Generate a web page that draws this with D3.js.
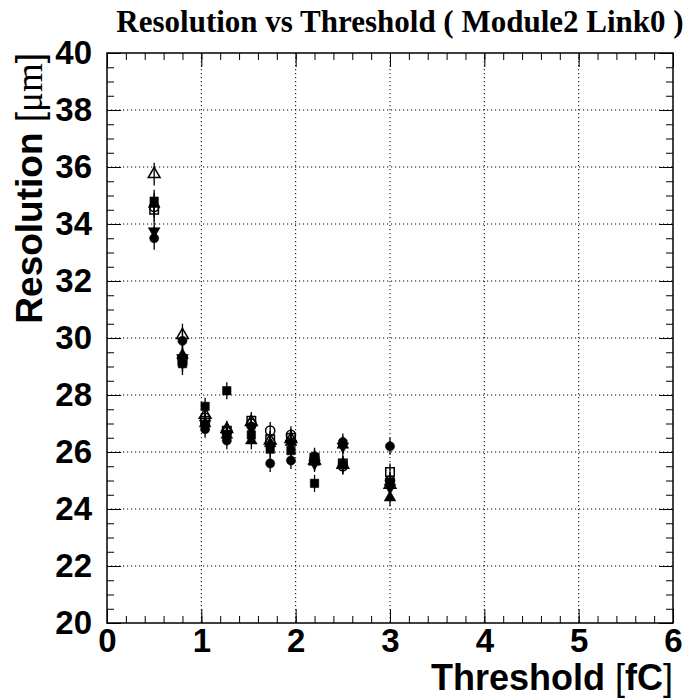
<!DOCTYPE html>
<html>
<head>
<meta charset="utf-8">
<script src="https://cdn.jsdelivr.net/npm/d3@7"></script>
<style>
  body { margin: 0; background: #fff; }
  svg { display: block; }
  .tick text { font-family: "Liberation Sans", Arial, sans-serif; font-weight: bold; font-size: 33px; fill: #000; }
  .domain { stroke: #000; stroke-width: 1.5; }
  .tick line { stroke: #000; stroke-width: 1; }
  .grid line { stroke: #000; stroke-width: 1; stroke-dasharray: 1.2 2.8; }
</style>
</head>
<body>
<svg id="chart"></svg>
<script>
// thresholds in fC
let thresholds = [0.5, 0.8, 1.04, 1.27, 1.53, 1.73, 1.95, 2.2, 2.5, 3.0];
// resolution in um, one list per marker style
let filledCircle  = [33.5, 29.9, 26.8, 26.4, 26.9, 25.6, 25.7, 25.85, 26.35, 26.2];
let filledSquare  = [34.8, 29.1, 27.6, 28.15, 26.6, 26.1, 26.05, 24.9, 25.55, 24.95];
let filledTriUp   = [34.7, 29.4, 27.0, 26.6, 26.4, 26.3, 26.35, 25.65, 26.25, 24.4];
let filledTriDown = [33.75, 29.3, 27.0, 26.65, 26.85, 26.2, 26.3, 25.6, 26.2, 24.75];
let openCircle    = [34.6, 29.3, 27.2, 26.7, 27.0, 26.75, 26.6, 25.75, 25.5, 25.0];
let openSquare    = [34.5, 29.2, 27.1, 26.75, 27.1, 26.45, 26.5, 25.8, 25.6, 25.3];
let openTriUp     = [35.75, 30.1, 27.3, 26.8, 27.05, 26.4, 26.45, 25.7, 25.55, 24.85];
let errors        = [0.4, 0.4, 0.3, 0.3, 0.3, 0.3, 0.3, 0.3, 0.3, 0.3];
let xTicks = [0, 1, 2, 3, 4, 5, 6];
let yTicks = [20, 22, 24, 26, 28, 30, 32, 34, 36, 38, 40];

let series = [
    {vals: filledCircle,  shape: d3.symbolCircle,   open: false, rot: 0},
    {vals: filledSquare,  shape: d3.symbolSquare,   open: false, rot: 0},
    {vals: filledTriUp,   shape: d3.symbolTriangle, open: false, rot: 0},
    {vals: filledTriDown, shape: d3.symbolTriangle, open: false, rot: 180},
    {vals: openCircle,    shape: d3.symbolCircle,   open: true,  rot: 0},
    {vals: openSquare,    shape: d3.symbolSquare,   open: true,  rot: 0},
    {vals: openTriUp,     shape: d3.symbolTriangle, open: true,  rot: 0}
];

let width = 687, height = 700,
    padL = 107, padR = 673, padT = 53, padB = 623,
    svg = d3.select("#chart").attr("width", width).attr("height", height),
    xScale = d3.scaleLinear([0, 6], [padL, padR]),
    yScale = d3.scaleLinear([20, 40], [padB, padT]);

// grid
let grid = svg.append("g").attr("class", "grid");
grid.selectAll(".gx").data(xTicks.slice(1, -1)).enter().append("line")
    .attr("x1", d => xScale(d)).attr("x2", d => xScale(d))
    .attr("y1", padT).attr("y2", padB);
grid.selectAll(".gy").data(yTicks.slice(1, -1)).enter().append("line")
    .attr("x1", padL).attr("x2", padR)
    .attr("y1", d => yScale(d)).attr("y2", d => yScale(d));

// frame
svg.append("rect").attr("x", padL).attr("y", padT)
    .attr("width", padR - padL).attr("height", padB - padT)
    .attr("fill", "none").attr("stroke", "#000").attr("stroke-width", 1.5);

let xMinor = d3.range(0, 6.001, 0.2), yMinor = d3.range(20, 40.001, 0.5);
let major = 14, minor = 7;

svg.append("g").attr("transform", "translate(0," + padB + ")")
    .call(d3.axisBottom(xScale).tickValues(xMinor).tickSize(-minor).tickFormat(""));
svg.append("g").attr("transform", "translate(0," + padB + ")")
    .call(d3.axisBottom(xScale).tickValues(xTicks).tickSize(-major).tickPadding(6).tickFormat(d3.format("d")));
svg.append("g").attr("transform", "translate(0," + padT + ")")
    .call(d3.axisTop(xScale).tickValues(xMinor).tickSize(-minor).tickFormat(""));
svg.append("g").attr("transform", "translate(0," + padT + ")")
    .call(d3.axisTop(xScale).tickValues(xTicks).tickSize(-major).tickFormat(""));
svg.append("g").attr("transform", "translate(" + padL + ",0)")
    .call(d3.axisLeft(yScale).tickValues(yMinor).tickSize(-minor).tickFormat(""));
svg.append("g").attr("transform", "translate(" + padL + ",0)")
    .call(d3.axisLeft(yScale).tickValues(yTicks).tickSize(-major).tickPadding(15).tickFormat(d3.format("d")));
svg.append("g").attr("transform", "translate(" + padR + ",0)")
    .call(d3.axisRight(yScale).tickValues(yMinor).tickSize(-minor).tickFormat(""));
svg.append("g").attr("transform", "translate(" + padR + ",0)")
    .call(d3.axisRight(yScale).tickValues(yTicks).tickSize(-major).tickFormat(""));
svg.selectAll(".domain").remove();

// error bars and markers
let g = svg.append("g");
series.forEach(function(s, si){
    g.selectAll(".err" + si).data(s.vals).enter().append("line")
        .attr("x1", (d, i) => xScale(thresholds[i])).attr("x2", (d, i) => xScale(thresholds[i]))
        .attr("y1", (d, i) => yScale(d - errors[i])).attr("y2", (d, i) => yScale(d + errors[i]))
        .attr("stroke", "#000").attr("stroke-width", 1.3);
});
series.forEach(function(s, si){
    let size = s.shape === d3.symbolTriangle ? 60 : (s.shape === d3.symbolSquare ? 72 : 66);
    g.selectAll(".mk" + si).data(s.vals).enter().append("path")
        .attr("d", d3.symbol(s.shape, size))
        .attr("transform", (d, i) => "translate(" + xScale(thresholds[i]) + "," + yScale(d) + ") rotate(" + s.rot + ")")
        .attr("fill", s.open ? "none" : "#000")
        .attr("stroke", "#000").attr("stroke-width", s.open ? 1.5 : 0.5);
});

// titles
svg.append("text").attr("x", 400).attr("y", 32).attr("text-anchor", "middle")
    .style("font-family", "'Liberation Serif', 'Times New Roman', serif")
    .style("font-weight", "bold").style("font-size", "31px")
    .text("Resolution vs Threshold ( Module2 Link0 )");

let xt = svg.append("text").attr("x", padR).attr("y", 690).attr("text-anchor", "end")
    .style("font-family", "'Liberation Sans', Arial, sans-serif").style("font-size", "36px");
xt.append("tspan").style("font-weight", "bold").text("Threshold ");
xt.append("tspan").text("[");
xt.append("tspan").style("font-weight", "bold").text("fC");
xt.append("tspan").text("]");

let yt = svg.append("text").attr("transform", "translate(42," + padT + ") rotate(-90)")
    .attr("text-anchor", "end")
    .style("font-family", "'Liberation Sans', Arial, sans-serif").style("font-size", "37px");
yt.append("tspan").style("font-weight", "bold").text("Resolution ");
yt.append("tspan").text("[");
yt.append("tspan").style("font-family", "'Liberation Serif', serif").text("\u03bcm");
yt.append("tspan").text("]");
</script>
</body>
</html>
